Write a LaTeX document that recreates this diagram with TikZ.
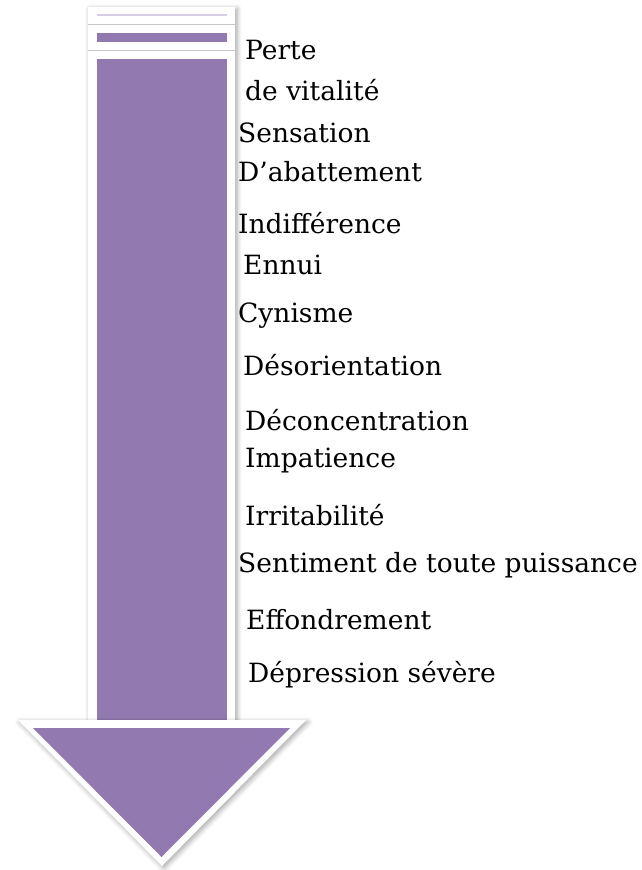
\documentclass[tikz,border=0pt]{standalone}
\usepackage{fontspec}
\setmainfont{DejaVu Serif}
\usetikzlibrary{positioning,shadows.blur}
\definecolor{lilas}{RGB}{146,122,176}
\definecolor{lilasclair}{RGB}{214,205,230}

\begin{document}
\begin{tikzpicture}[x=1pt,y=-1pt,
                    cadre/.style={fill=white,blur shadow={shadow xshift=2pt,shadow yshift=-2pt,shadow blur steps=6,shadow blur radius=5pt,shadow opacity=35}},
                    bande/.style={fill=lilas},
                    etat/.style={anchor=west,inner sep=0,font=\fontsize{26.5}{30}\selectfont},
       ]
       \useasboundingbox (0,0) rectangle (641,870);
       % cadre blanc de la tige
       \fill[cadre] (88,7) rectangle (235,720);
       \draw[gray!45] (88,24) -- (235,24);
       \draw[gray!45] (88,50) -- (235,50);
       \draw[lilasclair,line width=2] (97,15) -- (227,15);
       \fill[bande] (97,33) rectangle (227,42);
       \fill[bande] (97,59) rectangle (227,725);
       % pointe
       \fill[cadre] (18,720) -- (306,720) -- (162,866) -- cycle;
       \fill[bande] (33,728) -- (290,728) -- (161.5,857) -- cycle;
        \node[etat] (perte) at (245,50) {Perte};
        \node[etat] (vitalite) at (245,90) {de vitalité};
        \node[etat] (sensation) at (238,133) {Sensation};
        \node[etat] (abattement) at (238,172) {D’abattement};
        \node[etat] (indifference) at (238,223) {Indifférence};
        \node[etat] (ennui) at (243,265) {Ennui};
        \node[etat] (cynisme) at (238,316) {Cynisme};
        \node[etat] (desorientation) at (243,365) {Désorientation};
        \node[etat] (deconcentration) at (245,420) {Déconcentration};
        \node[etat] (impatience) at (245,461) {Impatience};
        \node[etat] (irritabilite) at (245,515) {Irritabilité};
        \node[etat] (puissance) at (238,565) {Sentiment de toute puissance};
        \node[etat] (effondrement) at (246,620) {Effondrement};
        \node[etat] (depression) at (248,675) {Dépression sévère};
    \end{tikzpicture}
\end{document}
